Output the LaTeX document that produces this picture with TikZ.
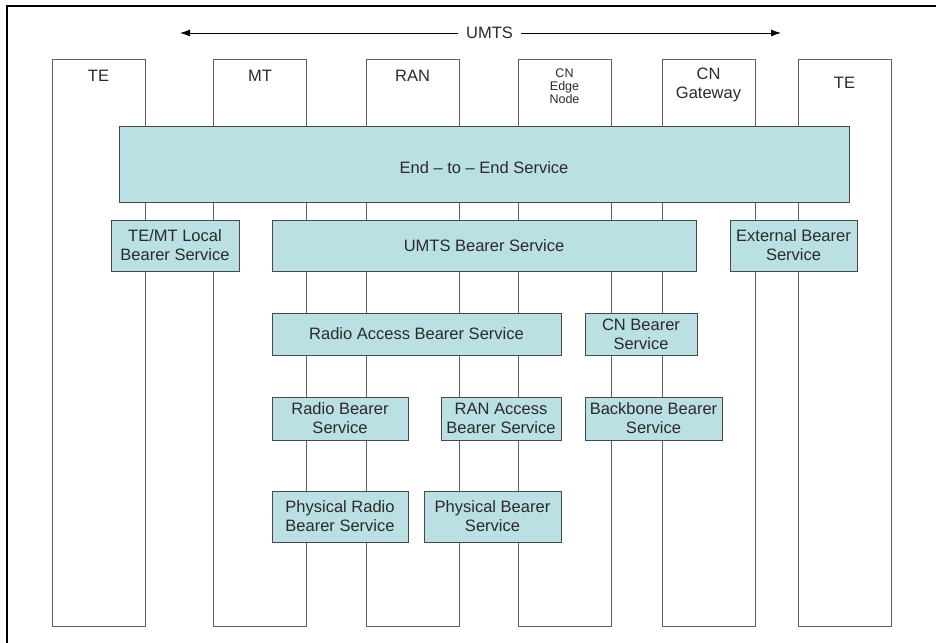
\documentclass[tikz,border=0pt]{standalone}
\usepackage{fontspec}
\setmainfont{Liberation Sans}
\usetikzlibrary{arrows.meta}
\definecolor{boxfill}{HTML}{BBE0E3}
\definecolor{boxedge}{HTML}{484848}
\definecolor{colline}{HTML}{606060}
\definecolor{txt}{HTML}{2A2A2A}
\begin{document}
\begin{tikzpicture}[x=1pt,y=-1pt,
  svc/.style={draw=boxedge, line width=0.9pt, fill=boxfill, inner sep=0pt, align=center,
    font=\fontsize{16.5}{19}\selectfont, text=txt},
  col/.style={draw=colline, line width=0.9pt, minimum width=93pt, minimum height=567pt, inner sep=0pt},
  lbl/.style={font=\fontsize{16.5}{19}\selectfont, align=center, text=txt, inner sep=0pt},
  smalllbl/.style={font=\fontsize{12.5}{13}\selectfont, align=center, text=txt, inner sep=0pt},
  umtsarrow/.style={draw=black, line width=0.9pt, -{Latex[length=10pt,width=7pt]}}]
\useasboundingbox (0,0) rectangle (936,642);
% frame
\draw[line width=2pt, black] (7,650) -- (7,6) -- (945,6);
% columns
\node[col] (cTEa) at (98.5,342.5) {};
\node[col] (cMT) at (260,342.5) {};
\node[col] (cRAN) at (412.5,342.5) {};
\node[col] (cCNE) at (564.5,342.5) {};
\node[col] (cCNG) at (708.5,342.5) {};
\node[col] (cTEb) at (844.5,342.5) {};
% column labels
\node[lbl] (lTEa) at (98.5,76) {TE};
\node[lbl] (lMT) at (260,76) {MT};
\node[lbl] (lRAN) at (412.5,76) {RAN};
\node[smalllbl] (lCNE) at (564.5,86) {CN\\Edge\\Node};
\node[lbl] (lCNG) at (708.5,85) {CN\\Gateway};
\node[lbl] (lTEb) at (844.5,83) {TE};
% UMTS arrow
\node[lbl] (umts) at (489.5,33) {UMTS};
\coordinate (arrL) at (180,33);
\coordinate (arrR) at (781,33);
\draw[umtsarrow] ([xshift=-8pt]umts.west) -- (arrL);
\draw[umtsarrow] ([xshift=8pt]umts.east) -- (arrR);
% service boxes
\node[svc, minimum width=730pt, minimum height=76pt] (e2e) at (484,164) {};
\node[lbl] (e2etext) at (484,168) {End -- to -- End Service};
\node[svc, minimum width=128pt, minimum height=51pt] (local) at (175,245.5) {TE/MT Local\\Bearer Service};
\node[svc, minimum width=424pt, minimum height=51pt] (umtsb) at (484,245.5) {UMTS Bearer Service};
\node[svc, minimum width=127pt, minimum height=51pt] (ext) at (793.5,245.5) {External Bearer\\Service};
\node[svc, minimum width=289pt, minimum height=42pt] (rab) at (416.5,334) {Radio Access Bearer Service};
\node[svc, minimum width=112pt, minimum height=42pt] (cnb) at (641,334) {CN Bearer\\Service};
\node[svc, minimum width=136pt, minimum height=43pt] (rb) at (340,418.5) {Radio Bearer\\Service};
\node[svc, minimum width=120pt, minimum height=43pt] (rana) at (501,418.5) {RAN Access\\Bearer Service};
\node[svc, minimum width=137pt, minimum height=43pt] (bb) at (653.5,418.5) {Backbone Bearer\\Service};
\node[svc, minimum width=136pt, minimum height=51pt] (prb) at (340,516.5) {Physical Radio\\Bearer Service};
\node[svc, minimum width=137pt, minimum height=51pt] (pb) at (492.5,516.5) {Physical Bearer\\Service};
\end{tikzpicture}
\end{document}
